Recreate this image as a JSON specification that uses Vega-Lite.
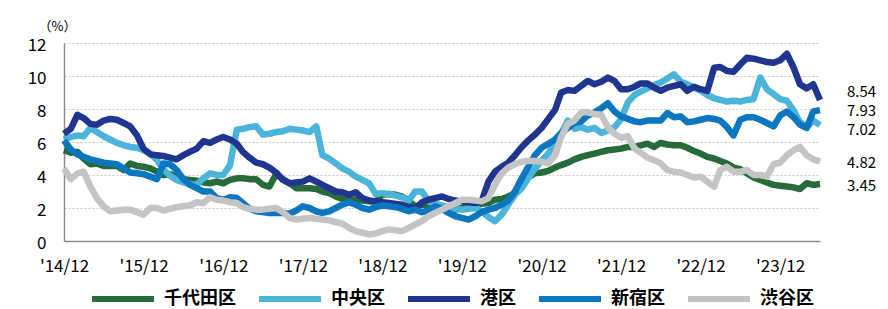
{"$schema":"https://vega.github.io/schema/vega-lite/v6.json","width":756,"height":198,"autosize":"none","padding":{"left":64,"top":43,"right":68,"bottom":68},"background":"white","config":{"view":{"stroke":null},"font":"Noto Sans CJK JP"},
"data":{"format":{"parse":{"d":"date:'%Y-%m'"}},"values":[
{"d":"2014-12","s":"千代田区","v":5.5},{"d":"2015-01","s":"千代田区","v":5.35},{"d":"2015-02","s":"千代田区","v":5.4},{"d":"2015-03","s":"千代田区","v":5.0},{"d":"2015-04","s":"千代田区","v":4.65},{"d":"2015-05","s":"千代田区","v":4.7},{"d":"2015-06","s":"千代田区","v":4.55},{"d":"2015-07","s":"千代田区","v":4.55},{"d":"2015-08","s":"千代田区","v":4.55},{"d":"2015-09","s":"千代田区","v":4.3},{"d":"2015-10","s":"千代田区","v":4.7},{"d":"2015-11","s":"千代田区","v":4.55},
{"d":"2015-12","s":"千代田区","v":4.5},{"d":"2016-01","s":"千代田区","v":4.4},{"d":"2016-02","s":"千代田区","v":4.2},{"d":"2016-03","s":"千代田区","v":4.0},{"d":"2016-04","s":"千代田区","v":4.05},{"d":"2016-05","s":"千代田区","v":3.95},{"d":"2016-06","s":"千代田区","v":3.75},{"d":"2016-07","s":"千代田区","v":3.7},{"d":"2016-08","s":"千代田区","v":3.65},{"d":"2016-09","s":"千代田区","v":3.55},{"d":"2016-10","s":"千代田区","v":3.5},{"d":"2016-11","s":"千代田区","v":3.6},
{"d":"2016-12","s":"千代田区","v":3.5},{"d":"2017-01","s":"千代田区","v":3.7},{"d":"2017-02","s":"千代田区","v":3.8},{"d":"2017-03","s":"千代田区","v":3.8},{"d":"2017-04","s":"千代田区","v":3.75},{"d":"2017-05","s":"千代田区","v":3.75},{"d":"2017-06","s":"千代田区","v":3.4},{"d":"2017-07","s":"千代田区","v":3.3},{"d":"2017-08","s":"千代田区","v":4.05},{"d":"2017-09","s":"千代田区","v":3.75},{"d":"2017-10","s":"千代田区","v":3.5},{"d":"2017-11","s":"千代田区","v":3.2},
{"d":"2017-12","s":"千代田区","v":3.2},{"d":"2018-01","s":"千代田区","v":3.2},{"d":"2018-02","s":"千代田区","v":3.15},{"d":"2018-03","s":"千代田区","v":3.0},{"d":"2018-04","s":"千代田区","v":2.9},{"d":"2018-05","s":"千代田区","v":2.7},{"d":"2018-06","s":"千代田区","v":2.55},{"d":"2018-07","s":"千代田区","v":2.45},{"d":"2018-08","s":"千代田区","v":2.5},{"d":"2018-09","s":"千代田区","v":2.45},{"d":"2018-10","s":"千代田区","v":2.4},{"d":"2018-11","s":"千代田区","v":2.4},
{"d":"2018-12","s":"千代田区","v":2.8},{"d":"2019-01","s":"千代田区","v":2.85},{"d":"2019-02","s":"千代田区","v":2.8},{"d":"2019-03","s":"千代田区","v":2.7},{"d":"2019-04","s":"千代田区","v":2.45},{"d":"2019-05","s":"千代田区","v":2.1},{"d":"2019-06","s":"千代田区","v":2.2},{"d":"2019-07","s":"千代田区","v":2.2},{"d":"2019-08","s":"千代田区","v":2.2},{"d":"2019-09","s":"千代田区","v":2.05},{"d":"2019-10","s":"千代田区","v":1.95},{"d":"2019-11","s":"千代田区","v":1.9},
{"d":"2019-12","s":"千代田区","v":2.0},{"d":"2020-01","s":"千代田区","v":2.1},{"d":"2020-02","s":"千代田区","v":2.3},{"d":"2020-03","s":"千代田区","v":2.25},{"d":"2020-04","s":"千代田区","v":2.3},{"d":"2020-05","s":"千代田区","v":2.5},{"d":"2020-06","s":"千代田区","v":2.55},{"d":"2020-07","s":"千代田区","v":2.7},{"d":"2020-08","s":"千代田区","v":2.9},{"d":"2020-09","s":"千代田区","v":3.4},{"d":"2020-10","s":"千代田区","v":3.85},{"d":"2020-11","s":"千代田区","v":4.1},
{"d":"2020-12","s":"千代田区","v":4.15},{"d":"2021-01","s":"千代田区","v":4.25},{"d":"2021-02","s":"千代田区","v":4.45},{"d":"2021-03","s":"千代田区","v":4.6},{"d":"2021-04","s":"千代田区","v":4.75},{"d":"2021-05","s":"千代田区","v":4.95},{"d":"2021-06","s":"千代田区","v":5.1},{"d":"2021-07","s":"千代田区","v":5.2},{"d":"2021-08","s":"千代田区","v":5.3},{"d":"2021-09","s":"千代田区","v":5.4},{"d":"2021-10","s":"千代田区","v":5.5},{"d":"2021-11","s":"千代田区","v":5.55},
{"d":"2021-12","s":"千代田区","v":5.6},{"d":"2022-01","s":"千代田区","v":5.7},{"d":"2022-02","s":"千代田区","v":5.7},{"d":"2022-03","s":"千代田区","v":5.8},{"d":"2022-04","s":"千代田区","v":5.9},{"d":"2022-05","s":"千代田区","v":5.7},{"d":"2022-06","s":"千代田区","v":5.95},{"d":"2022-07","s":"千代田区","v":5.85},{"d":"2022-08","s":"千代田区","v":5.8},{"d":"2022-09","s":"千代田区","v":5.8},{"d":"2022-10","s":"千代田区","v":5.65},{"d":"2022-11","s":"千代田区","v":5.45},
{"d":"2022-12","s":"千代田区","v":5.3},{"d":"2023-01","s":"千代田区","v":5.1},{"d":"2023-02","s":"千代田区","v":5.0},{"d":"2023-03","s":"千代田区","v":4.85},{"d":"2023-04","s":"千代田区","v":4.7},{"d":"2023-05","s":"千代田区","v":4.45},{"d":"2023-06","s":"千代田区","v":4.35},{"d":"2023-07","s":"千代田区","v":4.1},{"d":"2023-08","s":"千代田区","v":3.85},{"d":"2023-09","s":"千代田区","v":3.7},{"d":"2023-10","s":"千代田区","v":3.55},{"d":"2023-11","s":"千代田区","v":3.4},
{"d":"2023-12","s":"千代田区","v":3.35},{"d":"2024-01","s":"千代田区","v":3.3},{"d":"2024-02","s":"千代田区","v":3.25},{"d":"2024-03","s":"千代田区","v":3.15},{"d":"2024-04","s":"千代田区","v":3.5},{"d":"2024-05","s":"千代田区","v":3.4},{"d":"2024-06","s":"千代田区","v":3.45},
{"d":"2014-12","s":"中央区","v":6.15},{"d":"2015-01","s":"中央区","v":6.3},{"d":"2015-02","s":"中央区","v":6.4},{"d":"2015-03","s":"中央区","v":6.35},{"d":"2015-04","s":"中央区","v":6.85},{"d":"2015-05","s":"中央区","v":6.6},{"d":"2015-06","s":"中央区","v":6.35},{"d":"2015-07","s":"中央区","v":6.15},{"d":"2015-08","s":"中央区","v":5.95},{"d":"2015-09","s":"中央区","v":5.8},{"d":"2015-10","s":"中央区","v":5.7},{"d":"2015-11","s":"中央区","v":5.65},
{"d":"2015-12","s":"中央区","v":5.5},{"d":"2016-01","s":"中央区","v":5.3},{"d":"2016-02","s":"中央区","v":4.9},{"d":"2016-03","s":"中央区","v":4.35},{"d":"2016-04","s":"中央区","v":3.95},{"d":"2016-05","s":"中央区","v":3.7},{"d":"2016-06","s":"中央区","v":3.55},{"d":"2016-07","s":"中央区","v":3.45},{"d":"2016-08","s":"中央区","v":3.4},{"d":"2016-09","s":"中央区","v":3.8},{"d":"2016-10","s":"中央区","v":4.1},{"d":"2016-11","s":"中央区","v":4.0},
{"d":"2016-12","s":"中央区","v":4.0},{"d":"2017-01","s":"中央区","v":4.6},{"d":"2017-02","s":"中央区","v":6.75},{"d":"2017-03","s":"中央区","v":6.8},{"d":"2017-04","s":"中央区","v":6.9},{"d":"2017-05","s":"中央区","v":6.95},{"d":"2017-06","s":"中央区","v":6.45},{"d":"2017-07","s":"中央区","v":6.5},{"d":"2017-08","s":"中央区","v":6.6},{"d":"2017-09","s":"中央区","v":6.65},{"d":"2017-10","s":"中央区","v":6.8},{"d":"2017-11","s":"中央区","v":6.75},
{"d":"2017-12","s":"中央区","v":6.7},{"d":"2018-01","s":"中央区","v":6.6},{"d":"2018-02","s":"中央区","v":6.95},{"d":"2018-03","s":"中央区","v":5.2},{"d":"2018-04","s":"中央区","v":5.0},{"d":"2018-05","s":"中央区","v":4.7},{"d":"2018-06","s":"中央区","v":4.4},{"d":"2018-07","s":"中央区","v":4.2},{"d":"2018-08","s":"中央区","v":3.9},{"d":"2018-09","s":"中央区","v":3.7},{"d":"2018-10","s":"中央区","v":3.5},{"d":"2018-11","s":"中央区","v":2.85},
{"d":"2018-12","s":"中央区","v":2.9},{"d":"2019-01","s":"中央区","v":2.85},{"d":"2019-02","s":"中央区","v":2.75},{"d":"2019-03","s":"中央区","v":2.65},{"d":"2019-04","s":"中央区","v":2.45},{"d":"2019-05","s":"中央区","v":3.0},{"d":"2019-06","s":"中央区","v":3.0},{"d":"2019-07","s":"中央区","v":2.4},{"d":"2019-08","s":"中央区","v":2.25},{"d":"2019-09","s":"中央区","v":2.15},{"d":"2019-10","s":"中央区","v":2.05},{"d":"2019-11","s":"中央区","v":1.95},
{"d":"2019-12","s":"中央区","v":1.9},{"d":"2020-01","s":"中央区","v":1.95},{"d":"2020-02","s":"中央区","v":2.0},{"d":"2020-03","s":"中央区","v":1.8},{"d":"2020-04","s":"中央区","v":1.45},{"d":"2020-05","s":"中央区","v":1.2},{"d":"2020-06","s":"中央区","v":1.6},{"d":"2020-07","s":"中央区","v":2.2},{"d":"2020-08","s":"中央区","v":2.8},{"d":"2020-09","s":"中央区","v":3.2},{"d":"2020-10","s":"中央区","v":3.8},{"d":"2020-11","s":"中央区","v":4.4},
{"d":"2020-12","s":"中央区","v":4.85},{"d":"2021-01","s":"中央区","v":5.3},{"d":"2021-02","s":"中央区","v":6.0},{"d":"2021-03","s":"中央区","v":6.5},{"d":"2021-04","s":"中央区","v":7.3},{"d":"2021-05","s":"中央区","v":6.8},{"d":"2021-06","s":"中央区","v":6.9},{"d":"2021-07","s":"中央区","v":6.75},{"d":"2021-08","s":"中央区","v":6.85},{"d":"2021-09","s":"中央区","v":6.55},{"d":"2021-10","s":"中央区","v":6.7},{"d":"2021-11","s":"中央区","v":6.9},
{"d":"2021-12","s":"中央区","v":7.4},{"d":"2022-01","s":"中央区","v":8.4},{"d":"2022-02","s":"中央区","v":8.85},{"d":"2022-03","s":"中央区","v":9.05},{"d":"2022-04","s":"中央区","v":9.25},{"d":"2022-05","s":"中央区","v":9.45},{"d":"2022-06","s":"中央区","v":9.6},{"d":"2022-07","s":"中央区","v":9.85},{"d":"2022-08","s":"中央区","v":10.1},{"d":"2022-09","s":"中央区","v":9.65},{"d":"2022-10","s":"中央区","v":9.5},{"d":"2022-11","s":"中央区","v":9.3},
{"d":"2022-12","s":"中央区","v":9.1},{"d":"2023-01","s":"中央区","v":8.85},{"d":"2023-02","s":"中央区","v":8.65},{"d":"2023-03","s":"中央区","v":8.55},{"d":"2023-04","s":"中央区","v":8.45},{"d":"2023-05","s":"中央区","v":8.5},{"d":"2023-06","s":"中央区","v":8.45},{"d":"2023-07","s":"中央区","v":8.55},{"d":"2023-08","s":"中央区","v":8.6},{"d":"2023-09","s":"中央区","v":9.9},{"d":"2023-10","s":"中央区","v":9.2},{"d":"2023-11","s":"中央区","v":8.9},
{"d":"2023-12","s":"中央区","v":8.6},{"d":"2024-01","s":"中央区","v":8.5},{"d":"2024-02","s":"中央区","v":7.9},{"d":"2024-03","s":"中央区","v":7.2},{"d":"2024-04","s":"中央区","v":6.9},{"d":"2024-05","s":"中央区","v":7.3},{"d":"2024-06","s":"中央区","v":7.02},
{"d":"2014-12","s":"港区","v":6.5},{"d":"2015-01","s":"港区","v":6.8},{"d":"2015-02","s":"港区","v":7.65},{"d":"2015-03","s":"港区","v":7.45},{"d":"2015-04","s":"港区","v":7.1},{"d":"2015-05","s":"港区","v":7.05},{"d":"2015-06","s":"港区","v":7.3},{"d":"2015-07","s":"港区","v":7.4},{"d":"2015-08","s":"港区","v":7.35},{"d":"2015-09","s":"港区","v":7.15},{"d":"2015-10","s":"港区","v":6.95},{"d":"2015-11","s":"港区","v":6.4},
{"d":"2015-12","s":"港区","v":5.6},{"d":"2016-01","s":"港区","v":5.25},{"d":"2016-02","s":"港区","v":5.2},{"d":"2016-03","s":"港区","v":5.15},{"d":"2016-04","s":"港区","v":5.05},{"d":"2016-05","s":"港区","v":4.95},{"d":"2016-06","s":"港区","v":5.2},{"d":"2016-07","s":"港区","v":5.4},{"d":"2016-08","s":"港区","v":5.6},{"d":"2016-09","s":"港区","v":6.05},{"d":"2016-10","s":"港区","v":5.95},{"d":"2016-11","s":"港区","v":6.15},
{"d":"2016-12","s":"港区","v":6.3},{"d":"2017-01","s":"港区","v":6.15},{"d":"2017-02","s":"港区","v":5.9},{"d":"2017-03","s":"港区","v":5.4},{"d":"2017-04","s":"港区","v":5.05},{"d":"2017-05","s":"港区","v":4.75},{"d":"2017-06","s":"港区","v":4.65},{"d":"2017-07","s":"港区","v":4.45},{"d":"2017-08","s":"港区","v":4.15},{"d":"2017-09","s":"港区","v":3.7},{"d":"2017-10","s":"港区","v":3.5},{"d":"2017-11","s":"港区","v":3.55},
{"d":"2017-12","s":"港区","v":3.6},{"d":"2018-01","s":"港区","v":3.8},{"d":"2018-02","s":"港区","v":3.6},{"d":"2018-03","s":"港区","v":3.4},{"d":"2018-04","s":"港区","v":3.2},{"d":"2018-05","s":"港区","v":3.0},{"d":"2018-06","s":"港区","v":2.95},{"d":"2018-07","s":"港区","v":2.8},{"d":"2018-08","s":"港区","v":2.95},{"d":"2018-09","s":"港区","v":2.6},{"d":"2018-10","s":"港区","v":2.45},{"d":"2018-11","s":"港区","v":2.4},
{"d":"2018-12","s":"港区","v":2.35},{"d":"2019-01","s":"港区","v":2.3},{"d":"2019-02","s":"港区","v":2.25},{"d":"2019-03","s":"港区","v":2.2},{"d":"2019-04","s":"港区","v":2.05},{"d":"2019-05","s":"港区","v":1.95},{"d":"2019-06","s":"港区","v":2.35},{"d":"2019-07","s":"港区","v":2.5},{"d":"2019-08","s":"港区","v":2.6},{"d":"2019-09","s":"港区","v":2.7},{"d":"2019-10","s":"港区","v":2.55},{"d":"2019-11","s":"港区","v":2.45},
{"d":"2019-12","s":"港区","v":2.4},{"d":"2020-01","s":"港区","v":2.35},{"d":"2020-02","s":"港区","v":2.3},{"d":"2020-03","s":"港区","v":2.4},{"d":"2020-04","s":"港区","v":3.6},{"d":"2020-05","s":"港区","v":4.2},{"d":"2020-06","s":"港区","v":4.5},{"d":"2020-07","s":"港区","v":4.75},{"d":"2020-08","s":"港区","v":5.2},{"d":"2020-09","s":"港区","v":5.7},{"d":"2020-10","s":"港区","v":6.1},{"d":"2020-11","s":"港区","v":6.45},
{"d":"2020-12","s":"港区","v":6.85},{"d":"2021-01","s":"港区","v":7.4},{"d":"2021-02","s":"港区","v":7.95},{"d":"2021-03","s":"港区","v":9.0},{"d":"2021-04","s":"港区","v":9.15},{"d":"2021-05","s":"港区","v":9.1},{"d":"2021-06","s":"港区","v":9.4},{"d":"2021-07","s":"港区","v":9.7},{"d":"2021-08","s":"港区","v":9.5},{"d":"2021-09","s":"港区","v":9.65},{"d":"2021-10","s":"港区","v":9.9},{"d":"2021-11","s":"港区","v":9.7},
{"d":"2021-12","s":"港区","v":9.2},{"d":"2022-01","s":"港区","v":9.2},{"d":"2022-02","s":"港区","v":9.35},{"d":"2022-03","s":"港区","v":9.55},{"d":"2022-04","s":"港区","v":9.55},{"d":"2022-05","s":"港区","v":9.3},{"d":"2022-06","s":"港区","v":9.1},{"d":"2022-07","s":"港区","v":9.3},{"d":"2022-08","s":"港区","v":9.4},{"d":"2022-09","s":"港区","v":9.5},{"d":"2022-10","s":"港区","v":9.1},{"d":"2022-11","s":"港区","v":9.35},
{"d":"2022-12","s":"港区","v":9.2},{"d":"2023-01","s":"港区","v":9.1},{"d":"2023-02","s":"港区","v":10.5},{"d":"2023-03","s":"港区","v":10.55},{"d":"2023-04","s":"港区","v":10.3},{"d":"2023-05","s":"港区","v":10.25},{"d":"2023-06","s":"港区","v":10.7},{"d":"2023-07","s":"港区","v":11.1},{"d":"2023-08","s":"港区","v":11.05},{"d":"2023-09","s":"港区","v":10.95},{"d":"2023-10","s":"港区","v":10.85},{"d":"2023-11","s":"港区","v":10.8},
{"d":"2023-12","s":"港区","v":10.95},{"d":"2024-01","s":"港区","v":11.35},{"d":"2024-02","s":"港区","v":10.5},{"d":"2024-03","s":"港区","v":9.5},{"d":"2024-04","s":"港区","v":9.25},{"d":"2024-05","s":"港区","v":9.5},{"d":"2024-06","s":"港区","v":8.54},
{"d":"2014-12","s":"新宿区","v":6.1},{"d":"2015-01","s":"新宿区","v":5.55},{"d":"2015-02","s":"新宿区","v":5.25},{"d":"2015-03","s":"新宿区","v":5.1},{"d":"2015-04","s":"新宿区","v":4.95},{"d":"2015-05","s":"新宿区","v":4.85},{"d":"2015-06","s":"新宿区","v":4.75},{"d":"2015-07","s":"新宿区","v":4.7},{"d":"2015-08","s":"新宿区","v":4.65},{"d":"2015-09","s":"新宿区","v":4.4},{"d":"2015-10","s":"新宿区","v":4.15},{"d":"2015-11","s":"新宿区","v":4.1},
{"d":"2015-12","s":"新宿区","v":4.05},{"d":"2016-01","s":"新宿区","v":3.9},{"d":"2016-02","s":"新宿区","v":3.75},{"d":"2016-03","s":"新宿区","v":4.7},{"d":"2016-04","s":"新宿区","v":4.65},{"d":"2016-05","s":"新宿区","v":4.3},{"d":"2016-06","s":"新宿区","v":3.75},{"d":"2016-07","s":"新宿区","v":3.4},{"d":"2016-08","s":"新宿区","v":3.2},{"d":"2016-09","s":"新宿区","v":3.0},{"d":"2016-10","s":"新宿区","v":3.0},{"d":"2016-11","s":"新宿区","v":2.6},
{"d":"2016-12","s":"新宿区","v":2.5},{"d":"2017-01","s":"新宿区","v":2.65},{"d":"2017-02","s":"新宿区","v":2.6},{"d":"2017-03","s":"新宿区","v":2.3},{"d":"2017-04","s":"新宿区","v":1.95},{"d":"2017-05","s":"新宿区","v":1.8},{"d":"2017-06","s":"新宿区","v":1.75},{"d":"2017-07","s":"新宿区","v":1.7},{"d":"2017-08","s":"新宿区","v":1.7},{"d":"2017-09","s":"新宿区","v":1.7},{"d":"2017-10","s":"新宿区","v":1.65},{"d":"2017-11","s":"新宿区","v":1.85},
{"d":"2017-12","s":"新宿区","v":2.1},{"d":"2018-01","s":"新宿区","v":2.0},{"d":"2018-02","s":"新宿区","v":1.8},{"d":"2018-03","s":"新宿区","v":1.7},{"d":"2018-04","s":"新宿区","v":1.8},{"d":"2018-05","s":"新宿区","v":2.0},{"d":"2018-06","s":"新宿区","v":2.2},{"d":"2018-07","s":"新宿区","v":2.35},{"d":"2018-08","s":"新宿区","v":2.2},{"d":"2018-09","s":"新宿区","v":2.0},{"d":"2018-10","s":"新宿区","v":1.9},{"d":"2018-11","s":"新宿区","v":2.05},
{"d":"2018-12","s":"新宿区","v":2.15},{"d":"2019-01","s":"新宿区","v":2.1},{"d":"2019-02","s":"新宿区","v":2.05},{"d":"2019-03","s":"新宿区","v":1.95},{"d":"2019-04","s":"新宿区","v":1.8},{"d":"2019-05","s":"新宿区","v":1.9},{"d":"2019-06","s":"新宿区","v":1.75},{"d":"2019-07","s":"新宿区","v":1.85},{"d":"2019-08","s":"新宿区","v":2.1},{"d":"2019-09","s":"新宿区","v":1.95},{"d":"2019-10","s":"新宿区","v":1.7},{"d":"2019-11","s":"新宿区","v":1.5},
{"d":"2019-12","s":"新宿区","v":1.4},{"d":"2020-01","s":"新宿区","v":1.3},{"d":"2020-02","s":"新宿区","v":1.5},{"d":"2020-03","s":"新宿区","v":1.75},{"d":"2020-04","s":"新宿区","v":1.9},{"d":"2020-05","s":"新宿区","v":2.0},{"d":"2020-06","s":"新宿区","v":2.2},{"d":"2020-07","s":"新宿区","v":2.45},{"d":"2020-08","s":"新宿区","v":3.0},{"d":"2020-09","s":"新宿区","v":3.8},{"d":"2020-10","s":"新宿区","v":4.5},{"d":"2020-11","s":"新宿区","v":5.2},
{"d":"2020-12","s":"新宿区","v":5.65},{"d":"2021-01","s":"新宿区","v":5.9},{"d":"2021-02","s":"新宿区","v":6.15},{"d":"2021-03","s":"新宿区","v":6.55},{"d":"2021-04","s":"新宿区","v":6.85},{"d":"2021-05","s":"新宿区","v":7.15},{"d":"2021-06","s":"新宿区","v":7.25},{"d":"2021-07","s":"新宿区","v":7.6},{"d":"2021-08","s":"新宿区","v":7.8},{"d":"2021-09","s":"新宿区","v":8.05},{"d":"2021-10","s":"新宿区","v":8.35},{"d":"2021-11","s":"新宿区","v":7.85},
{"d":"2021-12","s":"新宿区","v":7.55},{"d":"2022-01","s":"新宿区","v":7.4},{"d":"2022-02","s":"新宿区","v":7.25},{"d":"2022-03","s":"新宿区","v":7.2},{"d":"2022-04","s":"新宿区","v":7.3},{"d":"2022-05","s":"新宿区","v":7.3},{"d":"2022-06","s":"新宿区","v":7.3},{"d":"2022-07","s":"新宿区","v":7.75},{"d":"2022-08","s":"新宿区","v":7.5},{"d":"2022-09","s":"新宿区","v":7.55},{"d":"2022-10","s":"新宿区","v":7.2},{"d":"2022-11","s":"新宿区","v":7.25},
{"d":"2022-12","s":"新宿区","v":7.35},{"d":"2023-01","s":"新宿区","v":7.45},{"d":"2023-02","s":"新宿区","v":7.4},{"d":"2023-03","s":"新宿区","v":7.3},{"d":"2023-04","s":"新宿区","v":6.9},{"d":"2023-05","s":"新宿区","v":6.4},{"d":"2023-06","s":"新宿区","v":7.35},{"d":"2023-07","s":"新宿区","v":7.5},{"d":"2023-08","s":"新宿区","v":7.5},{"d":"2023-09","s":"新宿区","v":7.35},{"d":"2023-10","s":"新宿区","v":7.15},{"d":"2023-11","s":"新宿区","v":6.95},
{"d":"2023-12","s":"新宿区","v":7.6},{"d":"2024-01","s":"新宿区","v":7.85},{"d":"2024-02","s":"新宿区","v":7.5},{"d":"2024-03","s":"新宿区","v":7.05},{"d":"2024-04","s":"新宿区","v":6.85},{"d":"2024-05","s":"新宿区","v":7.85},{"d":"2024-06","s":"新宿区","v":7.93},
{"d":"2014-12","s":"渋谷区","v":4.4},{"d":"2015-01","s":"渋谷区","v":3.75},{"d":"2015-02","s":"渋谷区","v":4.1},{"d":"2015-03","s":"渋谷区","v":4.2},{"d":"2015-04","s":"渋谷区","v":3.3},{"d":"2015-05","s":"渋谷区","v":2.6},{"d":"2015-06","s":"渋谷区","v":2.1},{"d":"2015-07","s":"渋谷区","v":1.8},{"d":"2015-08","s":"渋谷区","v":1.85},{"d":"2015-09","s":"渋谷区","v":1.9},{"d":"2015-10","s":"渋谷区","v":1.9},{"d":"2015-11","s":"渋谷区","v":1.75},
{"d":"2015-12","s":"渋谷区","v":1.6},{"d":"2016-01","s":"渋谷区","v":2.0},{"d":"2016-02","s":"渋谷区","v":2.0},{"d":"2016-03","s":"渋谷区","v":1.85},{"d":"2016-04","s":"渋谷区","v":1.95},{"d":"2016-05","s":"渋谷区","v":2.05},{"d":"2016-06","s":"渋谷区","v":2.1},{"d":"2016-07","s":"渋谷区","v":2.15},{"d":"2016-08","s":"渋谷区","v":2.35},{"d":"2016-09","s":"渋谷区","v":2.3},{"d":"2016-10","s":"渋谷区","v":2.65},{"d":"2016-11","s":"渋谷区","v":2.5},
{"d":"2016-12","s":"渋谷区","v":2.45},{"d":"2017-01","s":"渋谷区","v":2.35},{"d":"2017-02","s":"渋谷区","v":2.3},{"d":"2017-03","s":"渋谷区","v":2.05},{"d":"2017-04","s":"渋谷区","v":1.95},{"d":"2017-05","s":"渋谷区","v":1.9},{"d":"2017-06","s":"渋谷区","v":1.9},{"d":"2017-07","s":"渋谷区","v":1.95},{"d":"2017-08","s":"渋谷区","v":2.0},{"d":"2017-09","s":"渋谷区","v":1.75},{"d":"2017-10","s":"渋谷区","v":1.4},{"d":"2017-11","s":"渋谷区","v":1.3},
{"d":"2017-12","s":"渋谷区","v":1.35},{"d":"2018-01","s":"渋谷区","v":1.4},{"d":"2018-02","s":"渋谷区","v":1.35},{"d":"2018-03","s":"渋谷区","v":1.3},{"d":"2018-04","s":"渋谷区","v":1.25},{"d":"2018-05","s":"渋谷区","v":1.15},{"d":"2018-06","s":"渋谷区","v":1.05},{"d":"2018-07","s":"渋谷区","v":0.8},{"d":"2018-08","s":"渋谷区","v":0.6},{"d":"2018-09","s":"渋谷区","v":0.5},{"d":"2018-10","s":"渋谷区","v":0.4},{"d":"2018-11","s":"渋谷区","v":0.45},
{"d":"2018-12","s":"渋谷区","v":0.6},{"d":"2019-01","s":"渋谷区","v":0.7},{"d":"2019-02","s":"渋谷区","v":0.65},{"d":"2019-03","s":"渋谷区","v":0.6},{"d":"2019-04","s":"渋谷区","v":0.8},{"d":"2019-05","s":"渋谷区","v":1.0},{"d":"2019-06","s":"渋谷区","v":1.2},{"d":"2019-07","s":"渋谷区","v":1.5},{"d":"2019-08","s":"渋谷区","v":1.7},{"d":"2019-09","s":"渋谷区","v":1.9},{"d":"2019-10","s":"渋谷区","v":2.1},{"d":"2019-11","s":"渋谷区","v":2.3},
{"d":"2019-12","s":"渋谷区","v":2.5},{"d":"2020-01","s":"渋谷区","v":2.5},{"d":"2020-02","s":"渋谷区","v":2.45},{"d":"2020-03","s":"渋谷区","v":2.4},{"d":"2020-04","s":"渋谷区","v":2.6},{"d":"2020-05","s":"渋谷区","v":3.4},{"d":"2020-06","s":"渋谷区","v":4.1},{"d":"2020-07","s":"渋谷区","v":4.45},{"d":"2020-08","s":"渋谷区","v":4.65},{"d":"2020-09","s":"渋谷区","v":4.8},{"d":"2020-10","s":"渋谷区","v":4.85},{"d":"2020-11","s":"渋谷区","v":4.85},
{"d":"2020-12","s":"渋谷区","v":4.8},{"d":"2021-01","s":"渋谷区","v":4.7},{"d":"2021-02","s":"渋谷区","v":5.2},{"d":"2021-03","s":"渋谷区","v":6.3},{"d":"2021-04","s":"渋谷区","v":7.1},{"d":"2021-05","s":"渋谷区","v":7.3},{"d":"2021-06","s":"渋谷区","v":7.8},{"d":"2021-07","s":"渋谷区","v":7.8},{"d":"2021-08","s":"渋谷区","v":7.7},{"d":"2021-09","s":"渋谷区","v":7.65},{"d":"2021-10","s":"渋谷区","v":6.9},{"d":"2021-11","s":"渋谷区","v":6.5},
{"d":"2021-12","s":"渋谷区","v":6.25},{"d":"2022-01","s":"渋谷区","v":6.35},{"d":"2022-02","s":"渋谷区","v":5.6},{"d":"2022-03","s":"渋谷区","v":5.35},{"d":"2022-04","s":"渋谷区","v":5.05},{"d":"2022-05","s":"渋谷区","v":4.9},{"d":"2022-06","s":"渋谷区","v":4.7},{"d":"2022-07","s":"渋谷区","v":4.3},{"d":"2022-08","s":"渋谷区","v":4.2},{"d":"2022-09","s":"渋谷区","v":4.15},{"d":"2022-10","s":"渋谷区","v":4.0},{"d":"2022-11","s":"渋谷区","v":3.85},
{"d":"2022-12","s":"渋谷区","v":3.9},{"d":"2023-01","s":"渋谷区","v":3.6},{"d":"2023-02","s":"渋谷区","v":3.3},{"d":"2023-03","s":"渋谷区","v":4.3},{"d":"2023-04","s":"渋谷区","v":4.5},{"d":"2023-05","s":"渋谷区","v":4.2},{"d":"2023-06","s":"渋谷区","v":4.2},{"d":"2023-07","s":"渋谷区","v":4.3},{"d":"2023-08","s":"渋谷区","v":4.0},{"d":"2023-09","s":"渋谷区","v":4.0},{"d":"2023-10","s":"渋谷区","v":3.9},{"d":"2023-11","s":"渋谷区","v":4.65},
{"d":"2023-12","s":"渋谷区","v":4.75},{"d":"2024-01","s":"渋谷区","v":5.2},{"d":"2024-02","s":"渋谷区","v":5.5},{"d":"2024-03","s":"渋谷区","v":5.7},{"d":"2024-04","s":"渋谷区","v":5.2},{"d":"2024-05","s":"渋谷区","v":4.95},{"d":"2024-06","s":"渋谷区","v":4.82}
]},
"encoding":{
"x":{"field":"d","type":"temporal","scale":{"domain":[{"year":2014,"month":12,"date":1},{"year":2024,"month":6,"date":1}]},
"axis":{"title":null,"values":[{"year":2014,"month":12,"date":1},{"year":2015,"month":12,"date":1},{"year":2016,"month":12,"date":1},{"year":2017,"month":12,"date":1},{"year":2018,"month":12,"date":1},{"year":2019,"month":12,"date":1},{"year":2020,"month":12,"date":1},{"year":2021,"month":12,"date":1},{"year":2022,"month":12,"date":1},{"year":2023,"month":12,"date":1}],"format":"'%y/%m","formatType":"time","labelFlush":false,"labelOverlap":false,"ticks":false,"grid":false,"domainColor":"#8c8c8c","domainWidth":1.5,"labelFontSize":17,"labelPadding":17,"labelColor":"#000000","labelFont":"Noto Sans CJK JP"}},
"y":{"field":"v","type":"quantitative","scale":{"domain":[0,12]},
"axis":{"values":[0,2,4,6,8,10,12],"labelOverlap":false,"title":"（%）","titleAngle":0,"titleX":-7,"titleY":-17,"titleAlign":"center","titleBaseline":"middle","titleFontWeight":"normal","titleFontSize":13,"titleColor":"#000000","titleFont":"Noto Sans CJK JP","ticks":false,"labelPadding":18,"labelOffset":2,"labelFontSize":17,"labelColor":"#000000","labelFont":"Noto Sans CJK JP","labelFlush":false,"grid":true,"gridColor":"#c8c8c8","gridDash":[2,2],"domainColor":"#8c8c8c","domainWidth":1.5}}},
"layer":[
{"mark":{"type":"line","strokeWidth":6.5,"strokeJoin":"round"},
"encoding":{
"color":{"field":"s","type":"nominal","scale":{"domain":["千代田区","中央区","港区","新宿区","渋谷区"],"range":["#276b3b","#4bb4da","#1f3590","#0d76c0","#c4c4c4"]},
"legend":{"title":null,"orient":"none","legendX":25,"legendY":222,"direction":"horizontal","symbolType":"stroke","symbolSize":3844,"symbolStrokeWidth":6,"labelFontSize":18,"labelFontWeight":"bold","labelOffset":7,"columnPadding":11,"padding":0,"labelColor":"#000000","labelFont":"Noto Sans CJK JP"}}}},
{"transform":[{"filter":"year(datum.d)==2024 && month(datum.d)==5 && datum.s=='港区'"}],
"mark":{"type":"text","align":"left","baseline":"middle","dx":27,"dy":-8,"fontSize":15,"color":"#000000","font":"Noto Sans CJK JP"},
"encoding":{"text":{"field":"v","type":"quantitative","format":".2f"}}},
{"transform":[{"filter":"year(datum.d)==2024 && month(datum.d)==5 && datum.s=='新宿区'"}],
"mark":{"type":"text","align":"left","baseline":"middle","dx":27,"dy":1,"fontSize":15,"color":"#000000","font":"Noto Sans CJK JP"},
"encoding":{"text":{"field":"v","type":"quantitative","format":".2f"}}},
{"transform":[{"filter":"year(datum.d)==2024 && month(datum.d)==5 && datum.s=='中央区'"}],
"mark":{"type":"text","align":"left","baseline":"middle","dx":27,"dy":5,"fontSize":15,"color":"#000000","font":"Noto Sans CJK JP"},
"encoding":{"text":{"field":"v","type":"quantitative","format":".2f"}}},
{"transform":[{"filter":"year(datum.d)==2024 && month(datum.d)==5 && (datum.s=='千代田区' || datum.s=='渋谷区')"}],
"mark":{"type":"text","align":"left","baseline":"middle","dx":27,"dy":2,"fontSize":15,"color":"#000000","font":"Noto Sans CJK JP"},
"encoding":{"text":{"field":"v","type":"quantitative","format":".2f"}}}
]}
